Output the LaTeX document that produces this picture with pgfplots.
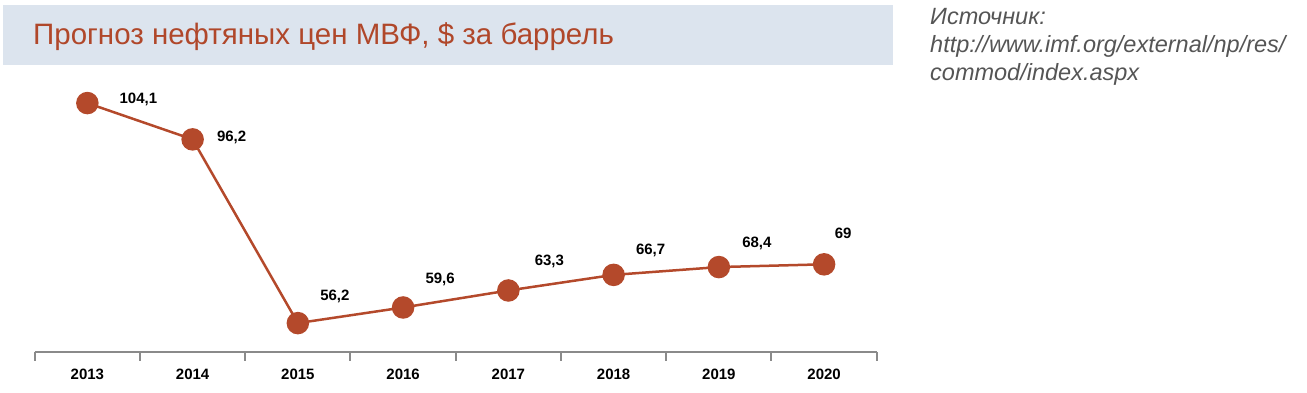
\documentclass[border=0pt]{standalone}
\usepackage{pgfplots}
\pgfplotsset{compat=1.18}
\usepackage{pgfplotstable}
\usepackage{fontspec}
\setmainfont{Liberation Sans}
\definecolor{titlebg}{HTML}{DCE4EE}
\definecolor{titlecol}{HTML}{B0472A}
\definecolor{linecol}{HTML}{B4492B}
\definecolor{srccol}{HTML}{555555}
\definecolor{axcol}{HTML}{8A8A8A}
\pgfplotstableread{
x y label dx dy
0 104.1 104,1 51 4
1 96.2 96,2 39 2
2 56.2 56,2 37 27
3 59.6 59,6 37 28
4 63.3 63,3 41 29
5 66.7 66,7 37 24
6 68.4 68,4 38 24
7 69 69 19 31
}\oildata
\begin{document}
\begin{tikzpicture}[x=1pt,y=1pt]
\useasboundingbox (0,0) rectangle (1307,392);
\fill[titlebg] (3,327) rectangle (893,387);
\node[anchor=base west, inner sep=0, text=titlecol, font=\fontsize{29.5}{33}\selectfont] at (33,348) {Прогноз нефтяных цен МВФ, \$ за баррель};
\node[anchor=base west, inner sep=0, text=srccol, font=\fontsize{23.5}{26}\selectfont\itshape] at (930,367) {Источник:};
\node[anchor=base west, inner sep=0, text=srccol, font=\fontsize{23.5}{26}\selectfont\itshape] at (930,339) {http://www.imf.org/external/np/res/};
\node[anchor=base west, inner sep=0, text=srccol, font=\fontsize{23.5}{26}\selectfont\itshape] at (930,312) {commod/index.aspx};
\begin{axis}[
  at={(33,88)}, anchor=south west,
  scale only axis, width=842pt, height=275.6pt,
  xmin=-0.5, xmax=7.5, ymin=50, ymax=110,
  clip=false,
  axis y line=none,
  axis x line*=bottom,
  axis line style={axcol, line width=2pt, -},
  xtick={0,...,7},
  xticklabels={2013,2014,2015,2016,2017,2018,2019,2020},
  major tick length=0pt,
  minor xtick={-0.5,0.5,...,7.5},
  minor tick length=9pt,
  tick align=outside,
  minor tick style={axcol, line width=2pt},
  xticklabel style={font=\fontsize{15}{18}\selectfont\bfseries, text=black, yshift=-14pt},
]
\addplot[color=linecol, line width=2.5pt, mark=*, mark size=10pt,
  mark options={fill=linecol, draw=linecol},
  nodes near coords, point meta=explicit symbolic,
  visualization depends on={\thisrow{dx}\as\mydx},
  visualization depends on={\thisrow{dy}\as\mydy},
  every node near coord/.append style={anchor=center, xshift=\mydx pt, yshift=\mydy pt, font=\fontsize{15}{18}\selectfont\bfseries, text=black, inner sep=0pt},
] table[x=x, y=y, meta=label] {\oildata};
\end{axis}
\end{tikzpicture}
\end{document}
